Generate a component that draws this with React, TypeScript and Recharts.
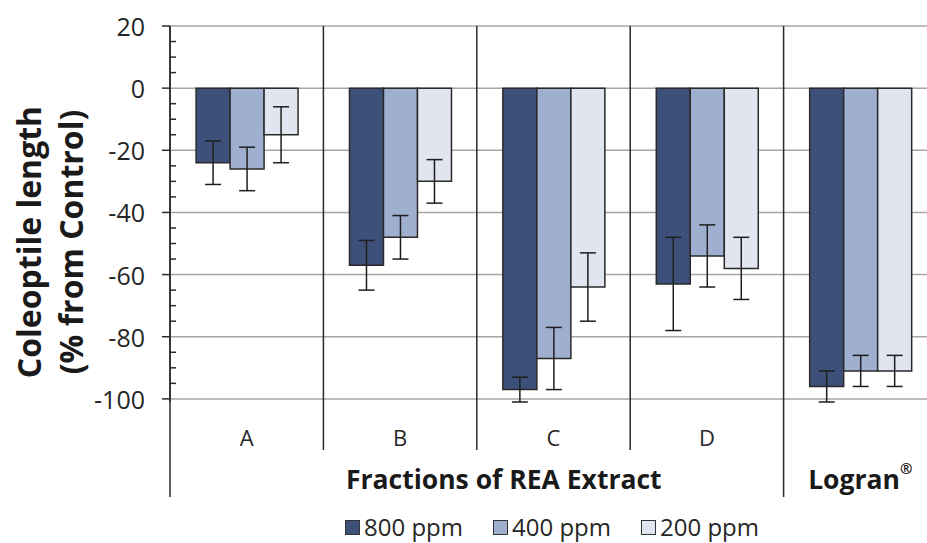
import { BarChart, Bar, XAxis, YAxis, CartesianGrid, ErrorBar } from 'recharts';

const categories = ['A', 'B', 'C', 'D', 'Logran'];
const groups = ['Fractions of REA Extract', 'Fractions of REA Extract', 'Fractions of REA Extract', 'Fractions of REA Extract', 'Logran'];

const ppm800 = [-24, -57, -97, -63, -96];
const ppm400 = [-26, -48, -87, -54, -91];
const ppm200 = [-15, -30, -64, -58, -91];
const err800 = [7, 8, 4, 15, 5];
const err400 = [7, 7, 10, 10, 5];
const err200 = [9, 7, 11, 10, 5];

const yTicks = [20, 0, -20, -40, -60, -80, -100];

const series = [
  { key: 'p800', err: 'e800', name: '800 ppm', color: '#3d5079' },
  { key: 'p400', err: 'e400', name: '400 ppm', color: '#9fafd0' },
  { key: 'p200', err: 'e200', name: '200 ppm', color: '#e1e5f0' },
];

const data = categories.map((name, i) => ({
  name,
  group: groups[i],
  p800: ppm800[i],
  p400: ppm400[i],
  p200: ppm200[i],
  e800: err800[i],
  e400: err400[i],
  e200: err200[i],
}));

// every 5 units between the labelled ticks
const allTicks: number[] = [];
for (let v = 20; v >= -100; v -= 5) allTicks.push(v);

const W = 950;
const H = 543;
const MARGIN = { top: 26, right: 13, bottom: 41, left: 0 };
const X_AXIS_H = 100;
const PLOT_H = H - MARGIN.top - MARGIN.bottom - X_AXIS_H;
const FONT = '"Open Sans", sans-serif';
const INK = '#2a2a2a';

const YTick = ({ x, y, payload }: any) => {
  const v = payload.value;
  const major = v % 20 === 0;
  return (
    <g>
      {major ? (
        <>
          <line x1={x - 8} x2={x} y1={y} y2={y} stroke={INK} strokeWidth={1.5} />
          <text x={x - 25} y={y} textAnchor="end" dominantBaseline="central" fontSize={25} fontFamily={FONT} fill="#262626">
            {v}
          </text>
        </>
      ) : (
        <line x1={x} x2={x + 6} y1={y} y2={y} stroke={INK} strokeWidth={1.5} />
      )}
    </g>
  );
};

const XTick = ({ x, y, payload, index }: any) => {
  const half = payload.offset || 76.7;
  const band = half * 2;
  const left = x - half;
  const g = groups[index];
  const first = groups.indexOf(g);
  const last = groups.lastIndexOf(g);
  const groupStart = index === first;
  const multi = first !== last;
  // wide group title sits a little right of the group's middle
  const groupCenter = left + ((first + last + 1) / 2 - index) * band + (multi ? 27 : 0);
  return (
    <g>
      <line x1={left} x2={left} y1={y - PLOT_H} y2={y + (groupStart ? 95 : 48)} stroke={INK} strokeWidth={1.5} />
      {multi && (
        <text x={x} y={y + 35} textAnchor="middle" dominantBaseline="central" fontSize={22} fontFamily={FONT} fill="#262626">
          {payload.value}
        </text>
      )}
      {groupStart && (
        <text x={groupCenter} y={y + 77} textAnchor="middle" dominantBaseline="central" fontSize={26.5} fontWeight="bold" fontFamily={FONT} fill="#1a1a1a">
          {g}
          {g === 'Logran' && (
            <tspan fontSize={15} dy={-11}>®</tspan>
          )}
        </text>
      )}
    </g>
  );
};

const YTitle = ({ viewBox }: any) => {
  const cy = viewBox ? viewBox.y + viewBox.height / 2 + 28 : 242;
  return (
    <g>
      <text transform={`translate(28, ${cy}) rotate(-90)`} textAnchor="middle" dominantBaseline="central" fontSize={32} fontWeight="bold" fontFamily={FONT} fill="#1a1a1a">
        Coleoptile length
      </text>
      <text transform={`translate(70, ${cy}) rotate(-90)`} textAnchor="middle" dominantBaseline="central" fontSize={32} fontWeight="bold" fontFamily={FONT} fill="#1a1a1a">
        (% from Control)
      </text>
    </g>
  );
};

export default function App() {
  return (
    <div style={{ position: 'fixed', left: 0, top: 0, width: 927, height: 543, overflow: 'hidden', background: '#fff' }}>
      <BarChart width={W} height={H} data={data} margin={MARGIN} barCategoryGap="17%" barGap={0}>
        <CartesianGrid vertical={false} horizontalValues={yTicks} stroke="#aaa59e" strokeWidth={1.5} />
        <XAxis
          dataKey="name"
          height={X_AXIS_H}
          axisLine={false}
          tickLine={false}
          tickSize={0}
          tickMargin={0}
          interval={0}
          tick={<XTick />}
        />
        <YAxis
          width={170}
          domain={[-100, 20]}
          ticks={allTicks}
          interval={0}
          tickSize={0}
          tickMargin={0}
          tickLine={false}
          axisLine={{ stroke: INK, strokeWidth: 1.5 }}
          tick={<YTick />}
          label={<YTitle />}
        />
        {series.map((s) => (
          <Bar key={s.key} dataKey={s.key} name={s.name} fill={s.color} stroke={INK} strokeWidth={1.5} isAnimationActive={false}>
            <ErrorBar dataKey={s.err} width={8} stroke="#1e1e1e" strokeWidth={1.5} />
          </Bar>
        ))}
      </BarChart>
      <div style={{ position: 'absolute', left: 345, top: 514, height: 26, display: 'flex', alignItems: 'center', fontFamily: FONT, fontSize: 24, lineHeight: '26px', color: '#262626' }}>
        {series.map((s) => (
          <div key={s.key} style={{ display: 'flex', alignItems: 'center', marginRight: 30 }}>
            <span style={{ display: 'inline-block', width: 13, height: 13, background: s.color, border: '1.5px solid #333', marginRight: 4 }} />
            <span>{s.name}</span>
          </div>
        ))}
      </div>
    </div>
  );
}
